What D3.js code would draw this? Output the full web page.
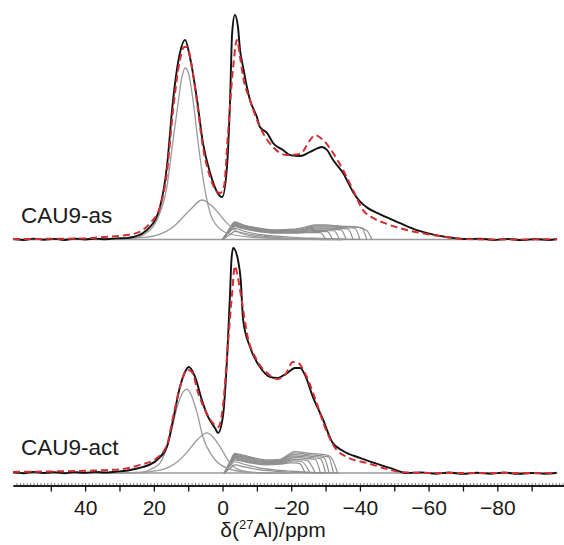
<!DOCTYPE html>
<html>
<head>
<meta charset="utf-8">
<script src="https://cdn.jsdelivr.net/npm/d3@7"></script>
<style>
    body { margin: 0; background: #fff; }
    .axis path, .axis line { stroke: #111; stroke-width: 1.3px; }
    .axis.minor line { stroke: #444; stroke-width: 0.7px; }
    .axis text { font-family: "Liberation Sans", Arial, sans-serif; font-size: 21px; fill: #1a1a1a; }
    .label { font-family: "Liberation Sans", Arial, sans-serif; font-size: 22.5px; fill: #1a1a1a; }
    .exp { fill: none; stroke: #111; stroke-width: 1.9px; }
    .fit { fill: none; stroke: #d42e33; stroke-width: 2px; stroke-dasharray: 7,4; }
    .comp { fill: none; stroke: #9a9a9a; stroke-width: 1.3px; }
    .band { fill: none; stroke: #8e8e8e; stroke-width: 1.2px; }
</style>
</head>
<body>
<script>
//data: [delta in ppm, normalised intensity]

//CAU9-as, experimental spectrum
var expAs = [[61,0.003],[58,-0.002],[55,0.004],[52,-0.001],[49,0.003],[46,-0.002],[43,0.004],[40,0.0],[37,0.004],[34,0.001],[31,0.005],[28,0.006],[26.1,0.011],[23.5,0.025],[21.1,0.056],[19.5,0.09],[18.2,0.145],[16.2,0.323],[14.4,0.621],[12.4,0.831],[10.9,0.889],[9.5,0.813],[7.4,0.621],[5.7,0.430],[3.6,0.296],[1.6,0.212],[0.1,0.189],[-1.3,0.323],[-2.2,0.621],[-2.8,0.920],[-3.6,1.0],[-4.5,0.946],[-5.1,0.844],[-6.0,0.768],[-7.1,0.679],[-8.0,0.621],[-10.0,0.546],[-10.9,0.501],[-13.0,0.474],[-14.7,0.430],[-17.6,0.399],[-19.7,0.376],[-22.6,0.372],[-25.5,0.390],[-29.0,0.412],[-30.4,0.399],[-32.2,0.354],[-35.1,0.296],[-38.0,0.212],[-40.0,0.170],[-42.1,0.142],[-45.9,0.112],[-51.7,0.073],[-56.6,0.042],[-63.3,0.016],[-71.2,0.002],[-75,0.004],[-79,-0.002],[-83,0.003],[-87,-0.003],[-91,0.002],[-95,-0.002],[-97.4,0.002]];
//CAU9-as, fitted sum
var fitAs = [[61,0.002],[50,0.003],[40,0.005],[35.7,0.01],[27.8,0.02],[24.0,0.035],[21.1,0.073],[18.2,0.145],[16.2,0.296],[14.4,0.577],[12.4,0.80],[11.2,0.857],[10.3,0.857],[8.9,0.768],[7.4,0.608],[5.7,0.412],[3.6,0.278],[1.6,0.212],[0.7,0.207],[-0.4,0.234],[-1.6,0.474],[-3.1,0.768],[-4.2,0.889],[-5.1,0.813],[-6.0,0.724],[-8.0,0.621],[-10.9,0.501],[-14.7,0.412],[-18.8,0.376],[-22.6,0.381],[-25.5,0.443],[-26.9,0.465],[-29.3,0.443],[-32.2,0.385],[-35.1,0.310],[-38.0,0.220],[-40.9,0.131],[-43.8,0.096],[-47.9,0.069],[-53.7,0.042],[-61.3,0.020],[-67.1,0.007],[-71.2,0.002],[-80,0.0],[-97.4,0.001]];
//CAU9-as, single components
var compAs = [
    [[61,0],[35.7,0.002],[26,0.006],[23.1,0.02],[19.1,0.087],[16.2,0.234],[14.4,0.443],[13.2,0.577],[11.8,0.724],[10.9,0.764],[10.0,0.746],[8.6,0.621],[7.1,0.430],[5.1,0.220],[2.8,0.087],[-1.3,0.029],[-8.0,0.011],[-22.6,0.002],[-35,0]],
    [[61,0],[35.7,0.002],[22.0,0.011],[14.4,0.056],[9.5,0.131],[6.0,0.176],[2.8,0.145],[-1.3,0.073],[-5.1,0.029],[-10.9,0.011],[-22.6,0.002],[-35,0]]
];
var bandAs = [
    [[0,0],[-1.5,0.035],[-3.6,0.079],[-6,0.065],[-11,0.050],[-16,0.043],[-20.5,0.046],[-24.6,0.057],[-27,0.065],[-30,0.065],[-34,0.060],[-39,0.056],[-42,0.04],[-43.5,0]],
    [[0,0],[-1.5,0.034],[-3.6,0.076],[-6,0.063],[-11,0.048],[-16,0.041],[-20.5,0.043],[-24.6,0.053],[-27,0.061],[-30,0.061],[-35,0.058],[-40.5,0.052],[-42,0]],
    [[0,0],[-1.5,0.033],[-3.6,0.073],[-6,0.060],[-11,0.046],[-16,0.039],[-20.5,0.040],[-24.6,0.049],[-27,0.056],[-30,0.056],[-35,0.053],[-38.5,0.05],[-40,0]],
    [[0,0],[-1.5,0.032],[-3.6,0.070],[-6,0.058],[-11,0.044],[-16,0.037],[-20.5,0.037],[-24.6,0.045],[-27,0.051],[-30,0.051],[-36.5,0.047],[-38,0]],
    [[0,0],[-1.5,0.031],[-3.6,0.067],[-6,0.055],[-11,0.041],[-16,0.035],[-20.5,0.035],[-24.6,0.041],[-27,0.046],[-30,0.046],[-34.5,0.043],[-36,0]],
    [[0,0],[-1.5,0.030],[-3.6,0.064],[-6,0.053],[-11,0.039],[-16,0.032],[-20.5,0.032],[-24.6,0.037],[-27,0.041],[-32.5,0.039],[-34,0]],
    [[0,0],[-1.5,0.029],[-3.6,0.061],[-6,0.050],[-11,0.036],[-16,0.030],[-20.5,0.030],[-24.6,0.033],[-27,0.036],[-30.5,0.035],[-32,0]],
    [[0,0],[-1.5,0.028],[-3.6,0.057],[-6,0.048],[-11,0.034],[-16,0.028],[-20.5,0.028],[-24.6,0.030],[-27,0.031],[-28.5,0.031],[-30,0]],
    [[0,0],[-1.5,0.025],[-3.6,0.05],[-6,0.038],[-11,0.022],[-16,0.015],[-20.5,0.010],[-26,0.006],[-32,0.003],[-40,0]],
    [[0,0],[-2,0.02],[-3.6,0.036],[-6,0.029],[-11,0.016],[-16,0.009],[-20.5,0.005],[-28,0.002],[-35,0]]
];

//CAU9-act, experimental spectrum
var expAct = [[61,0.004],[58,-0.001],[55,0.005],[52,0.0],[49,0.004],[46,-0.001],[43,0.004],[40,0.001],[37,0.005],[34,0.002],[31,0.006],[28,0.01],[25.5,0.018],[23.1,0.027],[19.1,0.058],[16.2,0.116],[14.4,0.236],[12.4,0.382],[10.9,0.449],[9.8,0.471],[8.0,0.427],[6.0,0.324],[4.2,0.249],[2.2,0.200],[1.3,0.178],[-0.1,0.249],[-1.3,0.502],[-2.2,0.800],[-2.6,0.947],[-3.1,1.0],[-4.5,0.947],[-5.3,0.858],[-6.0,0.680],[-8.0,0.560],[-10.9,0.471],[-13.8,0.427],[-15.9,0.422],[-18.8,0.444],[-21.1,0.467],[-22.6,0.467],[-24.0,0.436],[-26.3,0.338],[-29.3,0.236],[-31.9,0.138],[-35.1,0.098],[-40.0,0.067],[-45.9,0.036],[-49.6,0.018],[-53.7,0.0],[-58,0.003],[-62,-0.003],[-66,0.002],[-70,-0.004],[-74,0.001],[-78,-0.003],[-82,0.002],[-86,-0.004],[-90,0.0],[-94,-0.003],[-97.4,0.001]];
//CAU9-act, fitted sum
var fitAct = [[61,0.005],[50,0.007],[40,0.01],[32,0.014],[28,0.02],[24.0,0.036],[19.1,0.067],[16.2,0.124],[14.4,0.249],[12.4,0.382],[10.3,0.458],[8.9,0.449],[7.1,0.356],[5.1,0.280],[2.8,0.222],[1.3,0.204],[-0.1,0.293],[-1.6,0.578],[-2.8,0.800],[-3.6,0.92],[-4.2,0.889],[-5.7,0.756],[-7.1,0.622],[-10.0,0.502],[-13.0,0.444],[-15.9,0.418],[-18.2,0.436],[-20.5,0.493],[-22.0,0.489],[-24.0,0.444],[-26.9,0.333],[-29.8,0.204],[-32.8,0.111],[-36.2,0.071],[-42.1,0.044],[-47.9,0.018],[-51.7,0.004],[-60,0.0],[-97.4,0.0]];
//CAU9-act, single components
var compAct = [
    [[61,0],[35.7,0.0],[26,0.002],[23.1,0.004],[20.5,0.02],[18.2,0.044],[15.3,0.160],[13.2,0.293],[11.5,0.360],[10.3,0.373],[8.9,0.338],[7.4,0.267],[5.7,0.160],[2.8,0.071],[-1.3,0.022],[-7.1,0.004],[-15,0.0]],
    [[61,0],[25,0.002],[18.2,0.013],[13.2,0.049],[10.3,0.093],[7.4,0.147],[4.5,0.178],[2.8,0.160],[0.7,0.116],[-2.2,0.044],[-5.1,0.013],[-10.9,0.001],[-20,0]]
];
var bandAct = [
    [[-0.5,0],[-2,0.045],[-3.6,0.087],[-5,0.083],[-8,0.072],[-13,0.058],[-16.7,0.061],[-19.7,0.087],[-20.8,0.095],[-25.5,0.087],[-30.4,0.080],[-32,0.06],[-33.5,0]],
    [[-0.5,0],[-2,0.043],[-3.6,0.083],[-5,0.079],[-8,0.068],[-13,0.054],[-16.7,0.057],[-19.7,0.081],[-20.8,0.089],[-25.5,0.081],[-30.8,0.072],[-32.3,0]],
    [[-0.5,0],[-2,0.041],[-3.6,0.079],[-5,0.075],[-8,0.064],[-13,0.051],[-16.7,0.054],[-19.7,0.075],[-20.8,0.082],[-25.5,0.075],[-29.5,0.068],[-31,0]],
    [[-0.5,0],[-2,0.039],[-3.6,0.075],[-5,0.071],[-8,0.060],[-13,0.048],[-16.7,0.051],[-19.7,0.069],[-20.8,0.075],[-25.5,0.069],[-28.5,0.064],[-30,0]],
    [[-0.5,0],[-2,0.037],[-3.6,0.071],[-5,0.067],[-8,0.056],[-13,0.045],[-16.7,0.048],[-19.7,0.063],[-20.8,0.068],[-25.5,0.063],[-27,0.06],[-28.5,0]],
    [[-0.5,0],[-2,0.035],[-3.6,0.067],[-5,0.063],[-8,0.052],[-13,0.042],[-16.7,0.045],[-19.7,0.057],[-20.8,0.061],[-24.5,0.057],[-27,0]],
    [[-0.5,0],[-2,0.033],[-3.6,0.063],[-5,0.059],[-8,0.048],[-13,0.039],[-16.7,0.042],[-19.7,0.051],[-20.8,0.054],[-23,0.051],[-25.5,0]],
    [[-0.5,0],[-2,0.031],[-3.6,0.058],[-5,0.055],[-8,0.045],[-13,0.036],[-16.7,0.039],[-19.7,0.045],[-20.8,0.045],[-22.5,0.042],[-24,0]],
    [[-0.5,0],[-2,0.028],[-3.6,0.05],[-6,0.04],[-10,0.025],[-15,0.014],[-20,0.008],[-26,0.003],[-34,0]],
    [[-0.5,0],[-2.2,0.02],[-3.6,0.036],[-6,0.028],[-10,0.016],[-15,0.008],[-20,0.004],[-30,0]]
];

//axis
var ppmDomain = [61, -100];
var majorTicks = d3.range(50, -91, -10);
var minorTicks = d3.range(60, -100, -1);
var sampleNames = ["CAU9-as", "CAU9-act"];

(function () {
    var width = 564,
        height = 545;

    var svg = d3.select("body")
        .append("svg")
        .attr("width", width)
        .attr("height", height);

    //shift axis runs right to left
    var x = d3.scaleLinear()
        .domain(ppmDomain)
        .range([13, 566]);

    //one intensity scale per stacked spectrum
    var yAs = d3.scaleLinear().domain([0, 1]).range([239.5, 15]);
    var yAct = d3.scaleLinear().domain([0, 1]).range([473, 248]);

    drawSpectrum(expAs, fitAs, compAs, bandAs, yAs, sampleNames[0], 222.5);
    drawSpectrum(expAct, fitAct, compAct, bandAct, yAct, sampleNames[1], 455);

    function drawSpectrum(exp, fit, comps, band, y, name, labelY) {
        var line = d3.line()
            .x(function (d) { return x(d[0]); })
            .y(function (d) { return y(d[1]); })
            .curve(d3.curveMonotoneX);

        var g = svg.append("g");

        //zero line of the fit components
        g.append("path")
            .datum([[ppmDomain[0], 0], [-97.4, 0]])
            .attr("class", "comp")
            .attr("d", line);

        g.selectAll(".band")
            .data(band)
            .enter()
            .append("path")
            .attr("class", "band")
            .attr("d", line);

        g.selectAll(".comp.peak")
            .data(comps)
            .enter()
            .append("path")
            .attr("class", "comp peak")
            .attr("d", line);

        g.append("path")
            .datum(exp)
            .attr("class", "exp")
            .attr("d", line);

        g.append("path")
            .datum(fit)
            .attr("class", "fit")
            .attr("d", line);

        g.append("text")
            .attr("class", "label")
            .attr("x", 21)
            .attr("y", labelY)
            .text(name);
    }

    //minor ticks point up, major ticks point down
    svg.append("g")
        .attr("class", "axis minor")
        .attr("transform", "translate(0,485.5)")
        .call(d3.axisTop(x).tickValues(minorTicks).tickSize(2.5).tickSizeOuter(0).tickFormat(""));

    var fmt = d3.format("d");
    svg.append("g")
        .attr("class", "axis")
        .attr("transform", "translate(0,485.5)")
        .call(d3.axisBottom(x)
            .tickValues(majorTicks)
            .tickSize(6)
            .tickSizeOuter(0)
            .tickPadding(8.5)
            .tickFormat(function (d) { return d % 20 === 0 ? fmt(d) : ""; }));

    svg.selectAll(".axis .domain").attr("stroke-width", 1.5);

    //axis title with superscript mass number
    var title = svg.append("text")
        .attr("x", 273)
        .attr("y", 537)
        .attr("text-anchor", "middle")
        .style("font-family", "'Liberation Sans', Arial, sans-serif")
        .style("font-size", "21px")
        .style("fill", "#1a1a1a");
    title.append("tspan").text("δ(");
    title.append("tspan").attr("dy", -8).style("font-size", "13px").text("27");
    title.append("tspan").attr("dy", 8).text("Al)/ppm");
})();
</script>
</body>
</html>
